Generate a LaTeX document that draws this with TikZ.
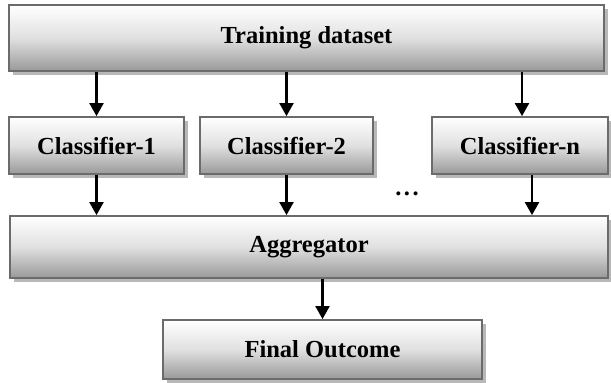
\documentclass[tikz,border=0pt]{standalone}
\usepackage{fontspec}
\setmainfont{Liberation Serif}
\usetikzlibrary{shadows,arrows.meta}
\begin{document}
\begin{tikzpicture}[x=1pt,y=-1pt,
  box/.style={draw=black!58, line width=1.8pt, top color=white, bottom color=black!40,
    middle color=black!12,
    font=\fontsize{24.5}{28}\selectfont\bfseries, inner sep=0pt,
    drop shadow={shadow xshift=3.5pt, shadow yshift=-3.5pt, fill=black!28, opacity=1}},
  arr/.style={line width=2.2pt, -{Triangle[width=14pt,length=13pt]}}]
\useasboundingbox (0,0) rectangle (611,383);
\node[box, minimum width=595pt, minimum height=66pt] (train) at (306.5,38) {Training dataset};
\node[box, minimum width=175pt, minimum height=57pt] (c1) at (96.5,145.5) {Classifier-1};
\node[box, minimum width=173pt, minimum height=57pt] (c2) at (286.5,145.5) {Classifier-2};
\node[box, minimum width=176pt, minimum height=57pt] (cn) at (520,145.5) {Classifier-n};
\node[box, minimum width=598pt, minimum height=62pt] (agg) at (309,247) {Aggregator};
\node[box, minimum width=319pt, minimum height=59pt] (final) at (322.5,349.5) {Final Outcome};
\node[font=\fontsize{24.5}{28}\selectfont\bfseries] (dots) at (407,194) {.\hspace{2.5pt}.\hspace{2.5pt}.};
\draw[arr] (train.south -| c1) -- (c1.north);
\draw[arr] (train.south -| c2) -- (c2.north);
\draw[arr] ([xshift=2pt]train.south -| cn) -- ([xshift=2pt]cn.north);
\draw[arr] (c1.south) -- (agg.north -| c1);
\draw[arr] (c2.south) -- (agg.north -| c2);
\draw[arr] ([xshift=12pt]cn.south) -- ([xshift=12pt]cn.south |- agg.north);
\draw[arr] (agg.south -| final) -- (final.north);
\end{tikzpicture}
\end{document}
